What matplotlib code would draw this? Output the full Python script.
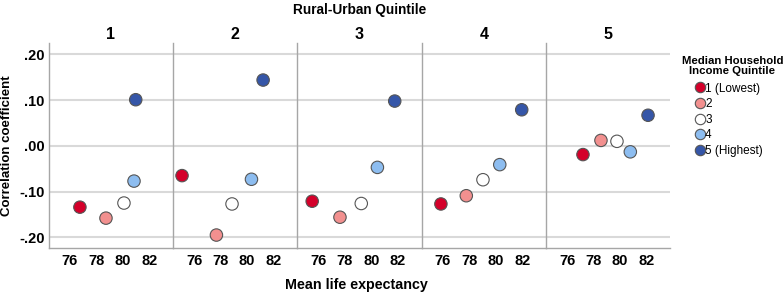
import numpy as np
import matplotlib
matplotlib.use("Agg")
import matplotlib.pyplot as plt
from matplotlib.lines import Line2D

plt.rcParams["font.family"] = ["Liberation Sans", "DejaVu Sans"]

# rural-urban quintile panels
panels = ["1", "2", "3", "4", "5"]
income_labels = ["1 (Lowest)", "2", "3", "4", "5 (Highest)"]
income_colors = ["#d4002a", "#f2908f", "#ffffff", "#8dbdf0", "#3556a8"]

# mean life expectancy per panel (rows) and income quintile (cols)
life_exp = [
    [76.76, 78.73, 80.09, 80.85, 80.98],
    [75.08, 77.68, 78.86, 80.33, 81.21],
    [75.52, 77.62, 79.23, 80.45, 81.76],
    [75.85, 77.77, 79.03, 80.30, 81.96],
    [77.19, 78.55, 79.76, 80.77, 82.11],
]
corr = [
    [-0.134, -0.158, -0.125, -0.077, 0.101],
    [-0.065, -0.195, -0.127, -0.073, 0.144],
    [-0.121, -0.156, -0.126, -0.047, 0.098],
    [-0.127, -0.109, -0.074, -0.041, 0.079],
    [-0.019, 0.012, 0.010, -0.013, 0.067],
]

yticks = [-0.2, -0.1, 0.0, 0.1, 0.2]
ytick_labels = ["-.20", "-.10", ".00", ".10", ".20"]
xticks = [76, 78, 80, 82]

fig = plt.figure(figsize=(7.84, 2.94), dpi=100)
left, width = 0.0621, 0.1586
bottom, height = 0.1554, 0.6983

axes = []
for i, name in enumerate(panels):
    ax = fig.add_axes([left + i * width, bottom, width, height])
    axes.append(ax)
    for y in yticks:
        ax.axhline(y, color="#d9d9d9", lw=1.5, zorder=0)
    ax.scatter(life_exp[i], corr[i], s=80, c=income_colors,
               edgecolors="#555555", linewidths=0.8, zorder=3)
    ax.set_xlim(74.4, 83.8)
    ax.set_ylim(-0.224, 0.225)
    ax.set_xticks(xticks)
    ax.set_xticklabels([str(t) for t in xticks], fontsize=10.5, fontweight="bold")
    ax.set_yticks(yticks)
    if i == 0:
        ax.set_yticklabels(ytick_labels, fontsize=10.5, fontweight="bold")
    else:
        ax.set_yticklabels([])
    ax.tick_params(axis="x", length=0, pad=4)
    ax.tick_params(axis="y", length=0, pad=3)
    for s in ["top", "right"]:
        ax.spines[s].set_visible(False)
    for s in ["left", "bottom"]:
        ax.spines[s].set_color("#a6a6a6")
        ax.spines[s].set_linewidth(1.0)
    ax.set_title(name, fontsize=11.5, fontweight="bold", pad=3)

axes[0].set_ylabel("Correlation coefficient", fontsize=9.5, fontweight="bold")
axes[0].yaxis.set_label_coords(-0.29, 0.5)
fig.text(0.459, 0.967, "Rural-Urban Quintile", ha="center", va="center",
         fontsize=9.8, fontweight="bold")
fig.text(0.455, 0.03, "Mean life expectancy", ha="center", va="center",
         fontsize=10.3, fontweight="bold")

fig.text(0.934, 0.775, "Median Household\nIncome Quintile", ha="center",
         va="center", fontsize=8.2, fontweight="bold", linespacing=0.95)

handles = [Line2D([], [], marker="o", ls="", markersize=7.5, markerfacecolor=c,
                  markeredgecolor="#555555", markeredgewidth=0.8)
           for c in income_colors]
fig.legend(handles, income_labels, loc="upper left",
           bbox_to_anchor=(0.888, 0.719), frameon=False,
           fontsize=8.5, handlelength=0.6, handletextpad=0.15,
           labelspacing=0.3, borderpad=0, borderaxespad=0)

fig.savefig("out.png", dpi=100)
